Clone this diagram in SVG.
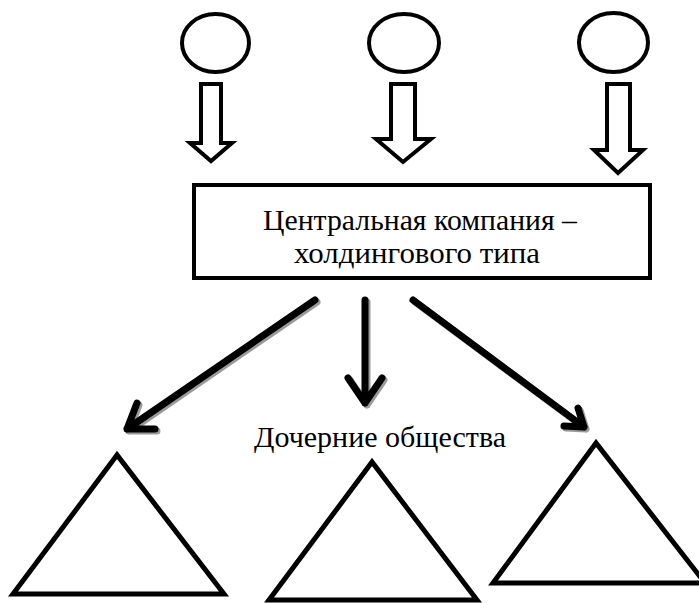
<svg xmlns="http://www.w3.org/2000/svg" xmlns:xlink="http://www.w3.org/1999/xlink" width="699" height="603" viewBox="0 0 699 603">
<style>
.shape{fill:#fff;stroke:#000;stroke-width:4;stroke-linejoin:miter}
.tri{fill:#fff;stroke:#000;stroke-width:5;stroke-linejoin:miter}
.thick{fill:none;stroke:#000;stroke-width:7;stroke-linecap:round;stroke-linejoin:round}
.shadow{fill:none;stroke:#9a9a9a;stroke-width:7;stroke-linecap:round;stroke-linejoin:round}
.txt{font-family:"Liberation Serif","Times New Roman",serif;font-size:30px;fill:#000;text-anchor:middle}
.box{font-size:29px}
</style>
<rect x="0" y="0" width="699" height="603" fill="#fff"/>
<defs>
<path id="a1" d="M315,300 L127,429 M155,429 L127,429 L137,403"/>
<path id="a2" d="M365,300 L365,403 M348,378 L365,403 L382,378"/>
<path id="a3" d="M413,300 L584,427 M578,408 L584,427 L564,426"/>
</defs>
<g id="owner1"><ellipse class="shape" cx="215.5" cy="43" rx="33.5" ry="29"/></g>
<g id="owner2"><ellipse class="shape" cx="404" cy="43" rx="35" ry="29"/></g>
<g id="owner3"><ellipse class="shape" cx="613.5" cy="42.5" rx="34.5" ry="29.5"/></g>
<g id="central">
<rect class="shape" x="194" y="185" width="456" height="93"/>
<text class="txt box" x="420" y="229.5" textLength="314" lengthAdjust="spacingAndGlyphs">Центральная компания –</text>
<text class="txt box" x="417" y="262.5" textLength="246" lengthAdjust="spacingAndGlyphs">холдингового типа</text>
</g>
<g id="label"><text class="txt" x="380" y="447">Дочерние общества</text></g>
<g id="sub1"><polygon class="tri" points="117,455 13,594 224,594"/></g>
<g id="sub2"><polygon class="tri" points="372,462 269,600 477,600"/></g>
<g id="sub3"><polygon class="tri" points="596,443 493,583 705,583"/></g>
<g id="connectors">
<polygon class="shape" points="201,84 221,84 221,143 232,143 211,161 190,143 201,143"/>
<polygon class="shape" points="391,84 415,84 415,139 431,139 403,162 376,139 391,139"/>
<polygon class="shape" points="607,84 630,84 630,150 643,150 618,173 594,150 607,150"/>
<use xlink:href="#a1" class="shadow" transform="translate(2,2)"/>
<use xlink:href="#a2" class="shadow" transform="translate(2,2)"/>
<use xlink:href="#a3" class="shadow" transform="translate(2,2)"/>
<use xlink:href="#a1" class="thick"/>
<use xlink:href="#a2" class="thick"/>
<use xlink:href="#a3" class="thick"/>
</g>
</svg>
